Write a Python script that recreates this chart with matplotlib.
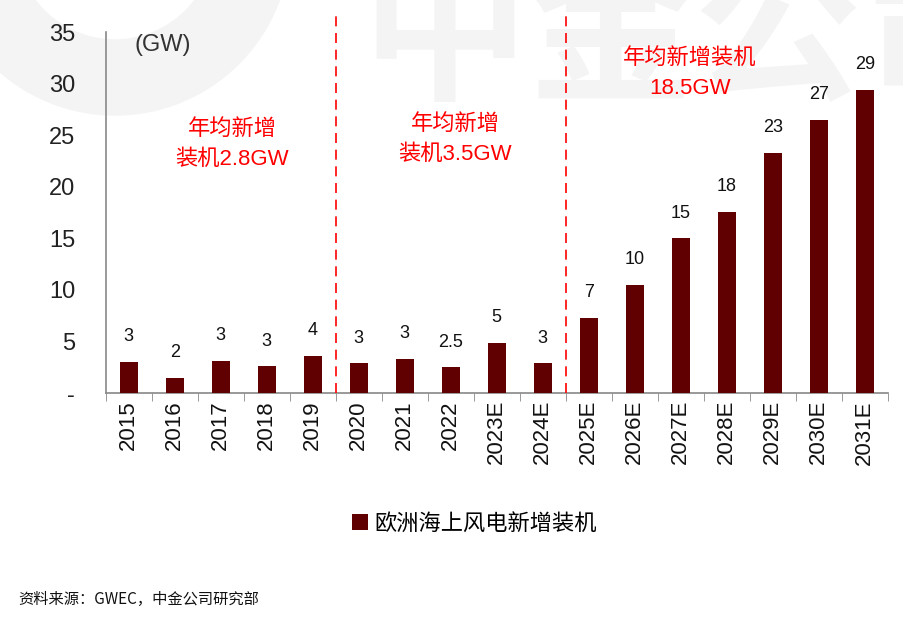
import numpy as np
import matplotlib.pyplot as plt
from matplotlib.patches import Wedge

plt.rcParams['font.family'] = ['Liberation Sans', 'Noto Sans CJK SC', 'DejaVu Sans']

# data
years = ["2015", "2016", "2017", "2018", "2019", "2020", "2021", "2022", "2023E",
         "2024E", "2025E", "2026E", "2027E", "2028E", "2029E", "2030E", "2031E"]
installs = [3.0, 1.5, 3.1, 2.6, 3.6, 2.9, 3.3, 2.5, 4.9, 2.9,
            7.3, 10.5, 15.0, 17.6, 23.3, 26.5, 29.4]
bar_labels = ["3", "2", "3", "3", "4", "3", "3", "2.5", "5", "3",
              "7", "10", "15", "18", "23", "27", "29"]
y_ticks = [0, 5, 10, 15, 20, 25, 30, 35]
y_ticklabels = ["-", "5", "10", "15", "20", "25", "30", "35"]
split_after = [4, 9]   # dashed lines after 2019 and 2024E
notes = [(2.25, 24.1, "年均新增\n装机2.8GW"),
         (7.1, 24.6, "年均新增\n装机3.5GW"),
         (12.2, 31.0, "年均新增装机\n18.5GW")]

fig = plt.figure(figsize=(9.04, 6.20), dpi=100)

# faint watermark behind everything
fig.patches.append(Wedge((1.15, 6.8), 1.75, 180, 360, width=0.75,
                         transform=fig.dpi_scale_trans, color="#f4f4f4", zorder=0))
fig.text(0.40, 0.86, "中金公司", fontsize=120, color="#f4f4f4",
         family=['Noto Sans CJK SC'], fontweight="bold", zorder=0)

ax = fig.add_axes([0.117, 0.366, 0.865, 0.582])
ax.set_zorder(2)
ax.patch.set_alpha(0)

x = np.arange(len(years))
bars = ax.bar(x, installs, width=0.4, color="#600000", label="欧洲海上风电新增装机", zorder=3)
for b, lab in zip(bars, bar_labels):
    ax.annotate(lab, (b.get_x() + b.get_width() / 2, b.get_height()),
                xytext=(0, 12), textcoords="offset points",
                ha="center", va="bottom", fontsize=13, color="#111111")

ax.set_xlim(-0.5, len(years) - 0.5)
ax.set_ylim(0, 35)
ax.set_yticks(y_ticks)
ax.set_yticklabels(y_ticklabels, fontsize=17, color="#222222")
ax.tick_params(axis="y", length=0, pad=22)

ax.set_xticks(x)
ax.set_xticklabels(years, rotation=90, fontsize=16, color="#111111")
ax.set_xticks(np.arange(-0.5, len(years)), minor=True)
ax.tick_params(axis="x", which="major", length=0, pad=5)
ax.tick_params(axis="x", which="minor", length=6, color="#888888", direction="out")

for s in ["top", "right"]:
    ax.spines[s].set_visible(False)
for s in ["left", "bottom"]:
    ax.spines[s].set_color("#888888")
    ax.spines[s].set_linewidth(1.2)

for i in split_after:
    ax.axvline(i + 0.5, ymin=0, ymax=1.055, color="red", lw=1.2,
               linestyle=(0, (6, 4)), clip_on=False, zorder=4)

for nx, ny, txt in notes:
    ax.text(nx, ny, txt, ha="center", va="center", fontsize=16, color="red",
            linespacing=1.6)

ax.text(0.037, 0.995, "(GW)", transform=ax.transAxes, ha="left", va="top",
        fontsize=17, color="#333333")

fig.legend(loc="center", bbox_to_anchor=(0.525, 0.156), frameon=False,
           prop={"family": ["Noto Sans CJK SC"], "size": 16},
           handlelength=0.7, handleheight=0.7, handletextpad=0.3)

fig.text(0.02, 0.026, "资料来源：GWEC，中金公司研究部", fontsize=11,
         family=["Noto Sans CJK SC"], color="#111111")

fig.savefig("out.png", dpi=100)
